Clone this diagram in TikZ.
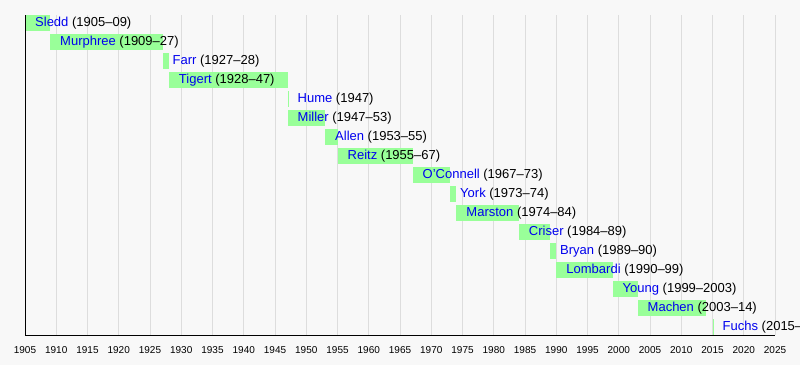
\documentclass[tikz,border=0pt]{standalone}
\usepackage{fontspec}
\setmainfont{Liberation Sans}
\definecolor{bgc}{RGB}{248,248,248}
\definecolor{barc}{RGB}{153,255,153}
\definecolor{gridc}{RGB}{221,221,221}
\definecolor{linkc}{RGB}{0,0,238}
\tikzset{
  gridline/.style={draw=gridc, line width=1pt},
  axisline/.style={draw=black, line width=1pt},
  barfill/.style={fill=barc},
  namelabel/.style={anchor=base west, inner sep=0pt, font=\fontsize{13}{15}\selectfont},
  yearlabel/.style={anchor=base, inner sep=0pt, font=\fontsize{10}{12}\selectfont},
}
\begin{document}
\begin{tikzpicture}[x=1pt,y=-1pt]
\useasboundingbox (0,0) rectangle (800,365);
\fill[bgc] (0,0) rectangle (800,365);
\clip (0,0) rectangle (800,365);
% grid
\foreach \yr in {1910,1915,...,2025}
  \draw[gridline] ({25+(\yr-1905)*6.25},15) -- ({25+(\yr-1905)*6.25},335);
% bars and labels
\foreach \i/\n/\s/\e/\t in {
  0/Sledd/1905/1909/1905–09,
  1/Murphree/1909/1927/1909–27,
  2/Farr/1927/1928/1927–28,
  3/Tigert/1928/1947/1928–47,
  4/Hume/1947/1947/1947,
  5/Miller/1947/1953/1947–53,
  6/Allen/1953/1955/1953–55,
  7/Reitz/1955/1967/1955–67,
  8/O'Connell/1967/1973/1967–73,
  9/York/1973/1974/1973–74,
  10/Marston/1974/1984/1974–84,
  11/Criser/1984/1989/1984–89,
  12/Bryan/1989/1990/1989–90,
  13/Lombardi/1990/1999/1990–99,
  14/Young/1999/2003/1999–2003,
  15/Machen/2003/2014/2003–14,
  16/Fuchs/2015/2015/2015–}
{
  \pgfmathsetmacro{\xs}{25+(\s-1905)*6.25}
  \pgfmathsetmacro{\xe}{max(25+(\e-1905)*6.25,\xs+1.2)}
  \pgfmathsetmacro{\yt}{15+19*\i}
  \fill[barfill] (\xs,\yt) rectangle (\xe,\yt+16);
  \node[namelabel] (lab\i) at (\xs+10,\yt+11) {\textcolor{linkc}{\n} (\t)};
}
% axes
\coordinate (axtop) at (25,15);
\coordinate (axorigin) at (25,335);
\coordinate (axend) at (775,335);
\draw[axisline] (axtop) -- (axorigin) -- (axend);
\foreach \yr in {1905,1910,...,2025}
  \node[yearlabel] (tick\yr) at ({25+(\yr-1905)*6.25},353.5) {\yr};
\end{tikzpicture}
\end{document}
